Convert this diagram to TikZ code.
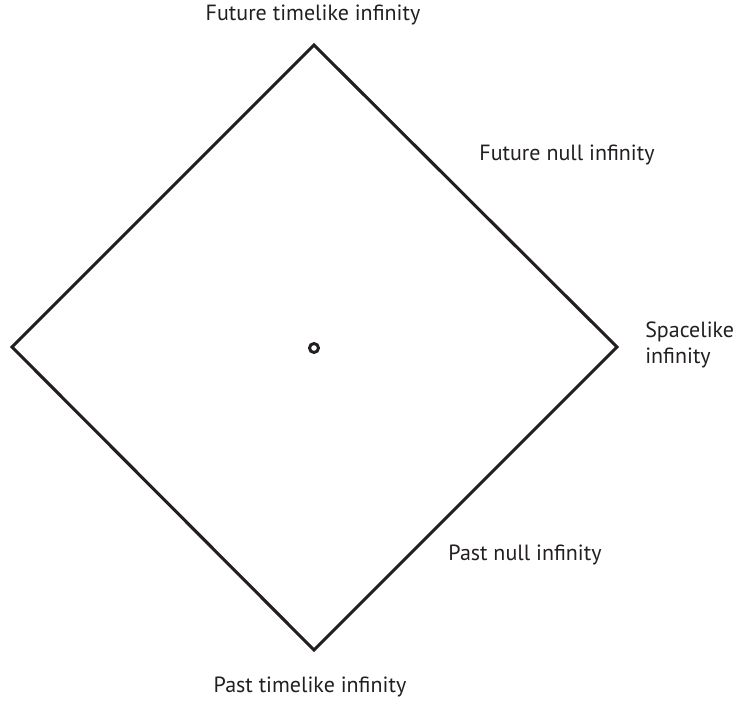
\documentclass[tikz,border=0pt]{standalone}
\usepackage{fontspec}
\setmainfont{PT Sans}
\usetikzlibrary{positioning}
\definecolor{ink}{HTML}{231F20}
\tikzset{
    infty/.style={text=ink, font=\fontsize{16.5}{19.5}\selectfont, inner sep=0pt},
    edge/.style={ink, line width=2.3pt, line join=miter}
}

\begin{document}
\begin{tikzpicture}[x=0.75pt, y=-0.75pt]
                \useasboundingbox (0, 0) rectangle (739, 700);
                % Corners of the diagram
                \coordinate (top) at (314, 45);
                \coordinate (right) at (617, 347);
                \coordinate (bottom) at (314, 650);
                \coordinate (left) at (12, 347);
                \draw [edge] (top) -- (right) -- (bottom) -- (left) -- cycle;
                % Origin
                \draw [ink, line width=2.2pt] (314, 348) circle (4.5);
                % Labels
                \node [infty] (futtime) at (313, 15) {Future timelike infinity};
                \node [infty] (futnull) at (567, 155) {Future null infinity};
                \node [infty, align=left, anchor=west] (space) at (645, 345) {Spacelike\\infinity};
                \node [infty] (pastnull) at (525, 555) {Past null infinity};
                \node [infty] (pasttime) at (310, 687) {Past timelike infinity};
\end{tikzpicture}
\end{document}
